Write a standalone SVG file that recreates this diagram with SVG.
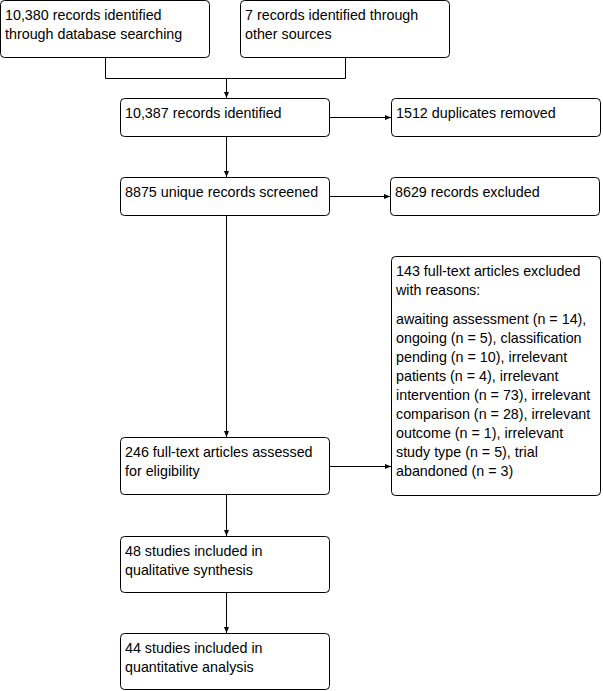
<svg xmlns="http://www.w3.org/2000/svg" width="603" height="691" viewBox="0 0 603 691">
<style>
.box{fill:#fff;stroke:#000;stroke-width:1}
.t{font-family:"Liberation Sans",Arial,sans-serif;font-size:14.3px;fill:#000}
.c{fill:none;stroke:#000;stroke-width:1}
</style>
<defs>
<marker id="ah" viewBox="0 0 6 6" refX="6" refY="3" markerWidth="6" markerHeight="6" markerUnits="userSpaceOnUse" orient="auto">
<path d="M0,0.5 L6,3 L0,5.5 z" fill="#000"/>
</marker>
</defs>
<rect width="603" height="691" fill="#fff"/>
<g id="connectors">
<path class="c" d="M105.5,57 V78.5 H345.5 V57"/>
<path class="c" d="M226.5,78.5 V98" marker-end="url(#ah)"/>
<path class="c" d="M329,117.5 H391" marker-end="url(#ah)"/>
<path class="c" d="M226.5,136 V177" marker-end="url(#ah)"/>
<path class="c" d="M329,196.5 H390" marker-end="url(#ah)"/>
<path class="c" d="M226.5,215 V437" marker-end="url(#ah)"/>
<path class="c" d="M329,466.5 H391" marker-end="url(#ah)"/>
<path class="c" d="M226.5,494 V536" marker-end="url(#ah)"/>
<path class="c" d="M226.5,592 V633" marker-end="url(#ah)"/>
</g>
<g id="n1"><rect class="box" x="0.5" y="0.5" width="209" height="57" rx="4"/>
<text class="t" x="5" y="20">10,380 records identified</text><text class="t" x="5" y="39">through database searching</text></g>
<g id="n2"><rect class="box" x="240.5" y="0.5" width="209" height="57" rx="4"/>
<text class="t" x="245" y="20">7 records identified through</text><text class="t" x="245" y="39">other sources</text></g>
<g id="n3"><rect class="box" x="120.5" y="98.5" width="209" height="38" rx="4"/>
<text class="t" x="125" y="118">10,387 records identified</text></g>
<g id="n4"><rect class="box" x="391.5" y="98.5" width="209" height="38" rx="4"/>
<text class="t" x="396" y="118">1512 duplicates removed</text></g>
<g id="n5"><rect class="box" x="120.5" y="177.5" width="209" height="38" rx="4"/>
<text class="t" x="125" y="197">8875 unique records screened</text></g>
<g id="n6"><rect class="box" x="390.5" y="177.5" width="209" height="38" rx="4"/>
<text class="t" x="395" y="197">8629 records excluded</text></g>
<g id="n7"><rect class="box" x="391.5" y="256.5" width="209" height="239" rx="4"/>
<text class="t" x="396" y="276">143 full-text articles excluded</text>
<text class="t" x="396" y="295">with reasons:</text>
<text class="t" x="396" y="324">awaiting assessment (n = 14),</text>
<text class="t" x="396" y="343">ongoing (n = 5), classification</text>
<text class="t" x="396" y="362">pending (n = 10), irrelevant</text>
<text class="t" x="396" y="381">patients (n = 4), irrelevant</text>
<text class="t" x="396" y="400">intervention (n = 73), irrelevant</text>
<text class="t" x="396" y="419">comparison (n = 28), irrelevant</text>
<text class="t" x="396" y="438">outcome (n = 1), irrelevant</text>
<text class="t" x="396" y="457">study type (n = 5), trial</text>
<text class="t" x="396" y="476">abandoned (n = 3)</text></g>
<g id="n8"><rect class="box" x="120.5" y="437.5" width="209" height="57" rx="4"/>
<text class="t" x="125" y="457">246 full-text articles assessed</text><text class="t" x="125" y="476">for eligibility</text></g>
<g id="n9"><rect class="box" x="120.5" y="536.5" width="209" height="56" rx="4"/>
<text class="t" x="125" y="556">48 studies included in</text><text class="t" x="125" y="575">qualitative synthesis</text></g>
<g id="n10"><rect class="box" x="120.5" y="633.5" width="209" height="56" rx="4"/>
<text class="t" x="125" y="653">44 studies included in</text><text class="t" x="125" y="672">quantitative analysis</text></g>
</svg>
